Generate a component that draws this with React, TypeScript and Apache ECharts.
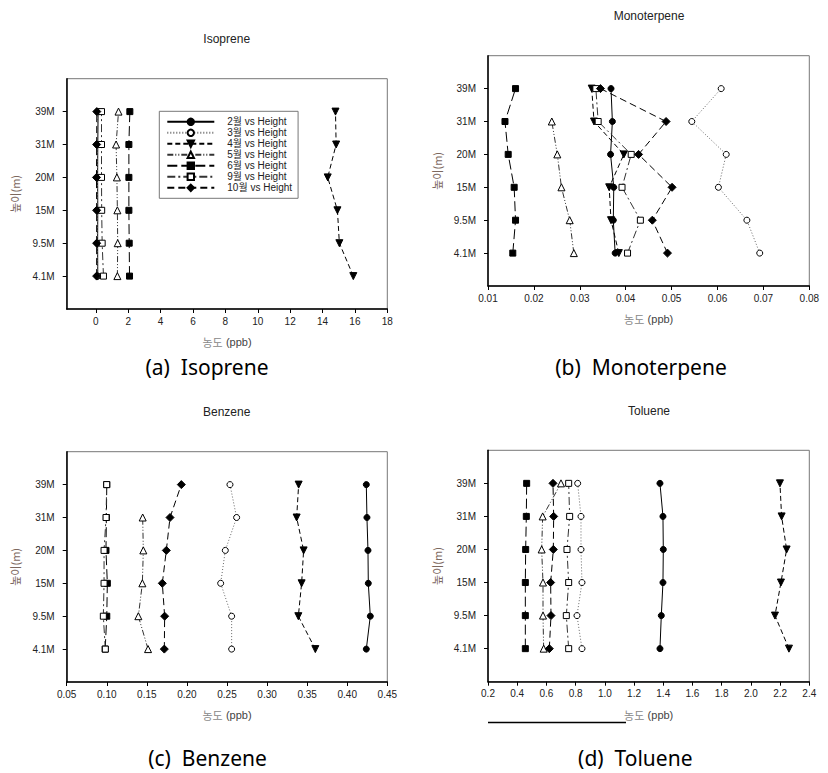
import React, { useEffect, useRef } from "react";
import * as echarts from "echarts";

const heights = ["4.1M", "9.5M", "15M", "20M", "31M", "39M"];
const months = ["2월", "3월", "4월", "5월", "6월", "9월", "10월"];

// values ordered bottom (4.1M) -> top (39M)
const iso2 = [0.12, 0.11, 0.12, 0.11, 0.12, 0.14];
const iso3 = [0.1, 0.09, 0.1, 0.1, 0.09, 0.11];
const iso4 = [15.9, 15.04, 14.92, 14.32, 14.84, 14.8];
const iso5 = [1.33, 1.35, 1.33, 1.3, 1.25, 1.4];
const iso6 = [2.08, 2.06, 2.04, 2.04, 2.04, 2.1];
const iso9 = [0.47, 0.39, 0.36, 0.35, 0.35, 0.35];
const iso10 = [0.05, 0.05, 0.05, 0.04, 0.05, 0.06];

const mono2 = [0.0377, 0.0373, 0.0374, 0.0367, 0.0371, 0.0368];
const mono3 = [0.0692, 0.0664, 0.0602, 0.0619, 0.0544, 0.0608];
const mono4 = [0.0385, 0.0368, 0.0364, 0.0396, 0.0331, 0.0326];
const mono5 = [0.0287, 0.0278, 0.026, 0.0251, 0.0239, null];
const mono6 = [0.0154, 0.016, 0.0157, 0.0144, 0.0137, 0.016];
const mono9 = [0.0404, 0.0432, 0.0392, 0.0412, 0.034, 0.0335];
const mono10 = [0.0491, 0.0458, 0.0501, 0.0428, 0.0488, 0.0345];

const ben2 = [0.4238, 0.4288, 0.4263, 0.4259, 0.4246, 0.4238];
const ben3 = [0.2558, 0.2558, 0.2421, 0.2479, 0.262, 0.2537];
const ben4 = [0.3602, 0.339, 0.3431, 0.3456, 0.3369, 0.3394];
const ben5 = [0.1515, 0.1394, 0.1444, 0.1456, 0.1448, null];
const ben6 = [0.098, 0.1, 0.1007, 0.099, 0.0995, 0.1];
const ben9 = [0.0982, 0.0957, 0.0966, 0.0966, 0.0991, 0.0999];
const ben10 = [0.1718, 0.1722, 0.1693, 0.1743, 0.1789, 0.193];

const tol2 = [1.3775, 1.3866, 1.398, 1.4003, 1.398, 1.3775];
const tol3 = [0.8435, 0.8093, 0.8435, 0.8367, 0.8367, 0.8139];
const tol4 = [2.2607, 2.1649, 2.2058, 2.2447, 2.2104, 2.199];
const tol5 = [0.5811, 0.5766, 0.5766, 0.5674, 0.5743, 0.6998];
const tol6 = [0.4556, 0.4556, 0.4556, 0.4579, 0.4624, 0.4647];
const tol9 = [0.7523, 0.7363, 0.7523, 0.7408, 0.7591, 0.7523];
const tol10 = [0.6199, 0.6313, 0.629, 0.6473, 0.6496, 0.645];

const isoTicks = [0, 2, 4, 6, 8, 10, 12, 14, 16, 18];
const monoTicks = [0.01, 0.02, 0.03, 0.04, 0.05, 0.06, 0.07, 0.08];
const benTicks = [0.05, 0.1, 0.15, 0.2, 0.25, 0.3, 0.35, 0.4, 0.45];
const tolTicks = [0.2, 0.4, 0.6, 0.8, 1.0, 1.2, 1.4, 1.6, 1.8, 2.0, 2.2, 2.4];

const panels = [
  { title: "Isoprene", caption: "(a)  Isoprene", data: [iso2, iso3, iso4, iso5, iso6, iso9, iso10], ticks: isoTicks, min: -1.8, max: 18, dec: 0 },
  { title: "Monoterpene", caption: "(b)  Monoterpene", data: [mono2, mono3, mono4, mono5, mono6, mono9, mono10], ticks: monoTicks, min: 0.01, max: 0.08, dec: 2 },
  { title: "Benzene", caption: "(c)  Benzene", data: [ben2, ben3, ben4, ben5, ben6, ben9, ben10], ticks: benTicks, min: 0.05, max: 0.45, dec: 2 },
  { title: "Toluene", caption: "(d)  Toluene", data: [tol2, tol3, tol4, tol5, tol6, tol9, tol10], ticks: tolTicks, min: 0.2, max: 2.4, dec: 1 },
];

const grids = [
  { left: 66.7, top: 78.7, width: 320.6, height: 230.3, titleX: 226.7, titleY: 39, capX: 207, capY: 367 },
  { left: 488, top: 55.7, width: 321.3, height: 230.3, titleX: 649, titleY: 15.7, capX: 641, capY: 367 },
  { left: 66.7, top: 451.7, width: 320.6, height: 230.3, titleX: 226.7, titleY: 412, capX: 207.5, capY: 758 },
  { left: 488, top: 450.3, width: 321.3, height: 231.4, titleX: 649, titleY: 411, capX: 635.3, capY: 758 },
];

const monthStyles = [
  { symbol: "circle", size: 6, fill: "#000", dash: "solid" as any, line: "#000", rotate: 0 },
  { symbol: "circle", size: 6, fill: "#fff", dash: [1, 2], line: "#666", rotate: 0 },
  { symbol: "triangle", size: 7, fill: "#000", dash: [5, 3], line: "#000", rotate: 180 },
  { symbol: "triangle", size: 7, fill: "#fff", dash: [6, 2, 1, 2, 1, 2], line: "#333", rotate: 0 },
  { symbol: "rect", size: 6, fill: "#000", dash: [10, 4], line: "#000", rotate: 0 },
  { symbol: "rect", size: 6, fill: "#fff", dash: [8, 3, 2, 3], line: "#333", rotate: 0 },
  { symbol: "diamond", size: 8, fill: "#000", dash: [7, 4], line: "#000", rotate: 0 },
];

const FONT = "'Liberation Sans', Arial, 'Noto Sans CJK KR', sans-serif";
const KFONT = "'Noto Sans CJK KR', 'Liberation Sans', sans-serif";

export default function App() {
  const ref = useRef<HTMLDivElement>(null);
  useEffect(() => {
    document.body.style.margin = "0";
    if (!ref.current) return;
    const chart = echarts.init(ref.current, undefined, { renderer: "svg" });

    const xAxis: any[] = [];
    const yAxis: any[] = [];
    const series: any[] = [];
    const graphic: any[] = [];

    panels.forEach((p, i) => {
      const g = grids[i];
      xAxis.push({
        type: "value",
        gridIndex: i,
        min: p.min,
        max: p.max,
        name: "{k|농도} {p|(ppb)}",
        nameLocation: "middle",
        nameGap: 27,
        nameTextStyle: {
          rich: {
            k: { fontFamily: KFONT, fontSize: 11, color: "#888" },
            p: { fontFamily: FONT, fontSize: 11, color: "#444" },
          },
        },
        axisLine: { show: true, onZero: false, lineStyle: { color: "#000", width: 1.5 } },
        axisTick: { show: true, inside: false, length: 4, customValues: p.ticks, lineStyle: { color: "#000" } },
        axisLabel: {
          customValues: p.ticks,
          margin: 7,
          fontSize: 10,
          fontFamily: FONT,
          color: "#222",
          formatter: (v: number) => v.toFixed(p.dec),
        },
        splitLine: { show: false },
      });
      yAxis.push({
        type: "value",
        gridIndex: i,
        min: 0,
        max: 7,
        interval: 1,
        name: "높이(m)",
        nameLocation: "middle",
        nameGap: 46,
        nameRotate: 90,
        nameTextStyle: { fontFamily: KFONT, fontSize: 11, color: "#7d685e" },
        axisLine: { show: true, onZero: false, lineStyle: { color: "#000", width: 1.5 } },
        axisTick: { show: true, length: 4, customValues: [1, 2, 3, 4, 5, 6], lineStyle: { color: "#000" } },
        axisLabel: {
          customValues: [1, 2, 3, 4, 5, 6],
          margin: 12,
          fontSize: 10,
          fontFamily: FONT,
          color: "#222",
          formatter: (v: number) => heights[Math.round(v) - 1] || "",
        },
        splitLine: { show: false },
      });
      p.data.forEach((vals, m) => {
        const s = monthStyles[m];
        const pts: any[] = [];
        vals.forEach((v, h) => {
          if (v !== null && v !== undefined) pts.push([v, h + 1]);
        });
        series.push({
          type: "line",
          name: months[m] + " vs Height",
          xAxisIndex: i,
          yAxisIndex: i,
          data: pts,
          symbol: s.symbol,
          symbolSize: s.size,
          symbolRotate: s.rotate,
          showSymbol: true,
          lineStyle: { color: s.line, width: 1, type: s.dash },
          itemStyle: { color: s.fill, borderColor: "#000", borderWidth: 1 },
          emphasis: { disabled: true },
          z: 2 + m,
        });
      });
      graphic.push({
        type: "text",
        x: g.titleX,
        y: g.titleY,
        style: { text: p.title, fontFamily: FONT, fontSize: 12, fill: "#222", textAlign: "center", textVerticalAlign: "middle" },
      });
      graphic.push({
        type: "text",
        x: g.capX,
        y: g.capY,
        style: { text: p.caption, fontFamily: "'Noto Sans', 'Open Sans', sans-serif", fontSize: 21, fill: "#000", textAlign: "center", textVerticalAlign: "middle" },
      });
    });

    graphic.push({
      type: "line",
      shape: { x1: 488, y1: 722.5, x2: 626, y2: 722.5 },
      style: { stroke: "#000", lineWidth: 1.3 },
    });

    chart.setOption({
      animation: false,
      backgroundColor: "#fff",
      grid: grids.map((g) => ({
        left: g.left,
        top: g.top,
        width: g.width,
        height: g.height,
        show: true,
        borderColor: "#777",
        borderWidth: 1,
        backgroundColor: "transparent",
      })),
      xAxis,
      yAxis,
      series,
      legend: {
        show: true,
        orient: "vertical",
        left: 159.3,
        top: 111.3,
        padding: [5, 6, 5, 7],
        itemWidth: 47,
        itemHeight: 8,
        itemGap: 0,
        backgroundColor: "#fff",
        borderColor: "#777",
        borderWidth: 1,
        borderRadius: 0,
        selectedMode: false,
        data: months.map((m) => m + " vs Height"),
        textStyle: { fontFamily: FONT, fontSize: 10, color: "#222", lineHeight: 11, padding: [0, 0, 0, 8] },
      },
      graphic,
    });
    return () => chart.dispose();
  }, []);
  return <div ref={ref} style={{ width: 828, height: 773 }} />;
}
